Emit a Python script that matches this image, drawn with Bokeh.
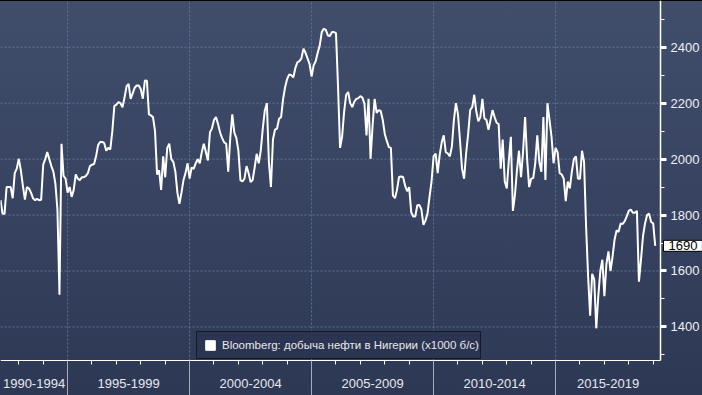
import pandas as pd
from bokeh.plotting import figure
from bokeh.models import (Range1d, LinearAxis, FixedTicker, Label, Legend, LegendItem,
                          ColumnDataSource, CustomJSTickFormatter)
from bokeh.embed import file_html
from bokeh.resources import INLINE

# ---------------- data (monthly, from April 1992) ----------------
start_month = "1992-04"
production = [
    1853, 1805, 1805, 1900, 1900, 1900, 1860, 1950, 1966, 2001, 1960, 1905,
    1855, 1900, 1895, 1880, 1860, 1853, 1858, 1853, 1855, 1980, 2000, 2025,
    2000, 1975, 1955, 1912, 1820, 1515, 2055, 1940, 1930, 1880, 1900, 1865,
    1890, 1945, 1930, 1925, 1935, 1935, 1940, 1950, 1975, 1980, 1982, 2010,
    2050, 2061, 2061, 2058, 2030, 2040, 2035, 2100, 2190, 2195, 2204, 2200,
    2185, 2220, 2260, 2269, 2215, 2235, 2255, 2263, 2263, 2250, 2216, 2281,
    2280, 2160, 2156, 2150, 2100, 1945, 1960, 1890, 2010, 1935, 2040, 2055,
    2000, 1990, 1955, 1880, 1840, 1880, 1925, 1950, 1985, 1930, 1970, 1965,
    1985, 2000, 1985, 2025, 2055, 2025, 1995, 2095, 2110, 2140, 2150, 2125,
    2095, 2075, 2060, 2055, 1955, 2075, 2160, 2095, 2075, 2030, 1925, 1920,
    1930, 1975, 1950, 1918, 1925, 1970, 2019, 1985, 2030, 2110, 2174, 2200,
    1990, 1900, 2070, 2105, 2109, 2144, 2150, 2215, 2258, 2287, 2303, 2300,
    2292, 2325, 2346, 2350, 2360, 2395, 2380, 2360, 2340, 2295, 2335, 2350,
    2380, 2406, 2454, 2466, 2462, 2442, 2440, 2454, 2454, 2450, 2260, 2040,
    2080, 2170, 2230, 2240, 2200, 2186, 2205, 2215, 2218, 2225, 2220, 2198,
    2085, 2216, 2001, 2120, 2215, 2165, 2175, 2172, 2140, 2090, 2065, 2043,
    2040, 1870, 1860, 1890, 1936, 1938, 1936, 1905, 1885, 1900, 1810, 1795,
    1795, 1835, 1836, 1820, 1765, 1780, 1805, 1865, 1920, 2010, 2020, 1950,
    2015, 2060, 2085, 2025, 2020, 2010, 2045, 2140, 2200, 2160, 2065, 1965,
    1930, 2020, 2090, 2175, 2186, 2230, 2170, 2135, 2150, 2215, 2145, 2140,
    2105, 2140, 2175, 2150, 2130, 2125, 1966, 2070, 1920, 1895, 1995, 2080,
    1815, 1870, 1960, 2030, 1935, 2025, 2150, 2000, 1900, 1930, 1932, 1985,
    2085, 1990, 1955, 2150, 1925, 2200, 2140, 2080, 1985, 2040, 2025, 1950,
    1945, 1930, 1850, 1920, 1895, 1955, 2000, 2010, 1930, 1930, 2030, 1990,
    1760, 1580, 1440, 1590, 1570, 1395, 1510, 1600, 1640, 1510, 1625, 1670,
    1600, 1650, 1712, 1745, 1740, 1770, 1768, 1778, 1795, 1815, 1820, 1808,
    1808, 1815, 1562, 1640, 1725, 1770, 1800, 1805, 1775, 1770, 1690,
]
band_starts = [1990, 1995, 2000, 2005, 2010, 2015, 2020]
band_labels = ["1990-1994", "1995-1999", "2000-2004", "2005-2009", "2010-2014", "2015-2019"]
year_ticks = list(range(1993, 2020))
y_major = [1400, 1600, 1800, 2000, 2200, 2400]
y_minor = [1300, 1500, 1700, 1900, 2100, 2300, 2500]
last_label = "1690"
legend_text = "Bloomberg: добыча нефти в Нигерии (x1000 б/с)"

# visible data window
X0, X1 = 1992.25, 2019.30
Y0, Y1 = 1280, 2567

# layout (pixels)
W, H = 702, 395
PLOT_W, PLOT_H = 660, 360          # data area; the rest holds the axes
x_end = X0 + (X1 - X0) * W / PLOT_W
y_start = Y1 - (Y1 - Y0) * H / PLOT_H

dates = pd.date_range(start_month, periods=len(production), freq="MS")
xs = list(dates.year + (dates.month - 1) / 12.0)
src = ColumnDataSource(dict(x=xs, y=production))

FONT = "Liberation Sans"
GRID = "#5b7698"

p = figure(width=W, height=H, output_backend="svg", toolbar_location=None,
           x_range=Range1d(X0, x_end), y_range=Range1d(y_start, Y1),
           x_axis_location=None, y_axis_location=None, min_border=0)
p.xgrid.visible = False
p.ygrid.visible = False
p.background_fill_alpha = 0
p.border_fill_alpha = 0
p.outline_line_color = None
p.styles = {"background": "linear-gradient(180deg, #000000 0px, #000000 1px, #414e6b 1px, "
                          "#36425f 55%, #2d3854 100%)"}

# dotted grid lines limited to the data area
vb = band_starts[1:-1]
p.segment(x0=vb, x1=vb, y0=[Y0] * len(vb), y1=[Y1] * len(vb),
          line_color=GRID, line_dash="2 2", line_width=1)
p.segment(x0=[X0] * len(y_major), x1=[X1] * len(y_major), y0=y_major, y1=y_major,
          line_color=GRID, line_dash="2 2", line_width=1)

# bottom axis: band labels centred in each visible band, short year ticks
centers = [(max(lo, X0) + min(hi, X1)) / 2.0 for lo, hi in zip(band_starts[:-1], band_starts[1:])]
fmt = CustomJSTickFormatter(args=dict(c=centers, l=band_labels), code="""
    let i = 0, b = 1e9;
    for (let k = 0; k < c.length; k++) { const d = Math.abs(c[k] - tick); if (d < b) { b = d; i = k } }
    return l[i];
""")
xaxis = LinearAxis(ticker=FixedTicker(ticks=centers, minor_ticks=year_ticks),
                   fixed_location=Y0, bounds=(X0, X1), formatter=fmt,
                   axis_line_color="white", axis_line_width=1,
                   major_tick_out=0, major_tick_in=0,
                   minor_tick_out=4, minor_tick_in=0, minor_tick_line_color="white",
                   major_label_text_color="#e6e8ee", major_label_text_font=FONT,
                   major_label_text_font_size="13px", major_label_standoff=14)
p.add_layout(xaxis, "below")
# long separators between bands
sep_axis = LinearAxis(ticker=FixedTicker(ticks=[], minor_ticks=band_starts[1:-1]),
                      fixed_location=Y0, bounds=(X0, X1), axis_line_color=None,
                      major_tick_line_color=None,
                      minor_tick_out=35, minor_tick_in=0, minor_tick_line_color="#a4abba")
p.add_layout(sep_axis, "below")

# right axis
yaxis = LinearAxis(ticker=FixedTicker(ticks=y_major, minor_ticks=y_minor),
                   fixed_location=X1, bounds=(Y0, Y1),
                   axis_line_color="white", axis_line_width=1.5,
                   major_tick_out=6, major_tick_in=0, major_tick_line_color="white",
                   major_tick_line_width=3,
                   minor_tick_out=4, minor_tick_in=0, minor_tick_line_color="white",
                   major_label_text_color="#eef0f4", major_label_text_font=FONT,
                   major_label_text_font_size="13px", major_label_standoff=4)
p.add_layout(yaxis, "right")

# series line
p.line(x="x", y="y", source=src, line_color="white", line_width=2)
sq_r = p.scatter(x="x", y="y", source=src, marker="square", size=0,
                 fill_color="white", line_color="white")

legend = Legend(items=[LegendItem(label=legend_text, renderers=[sq_r])],
                location=(196, H - PLOT_H + 1), orientation="horizontal",
                glyph_width=24, glyph_height=24, label_height=24, padding=1,
                spacing=0, label_standoff=0, margin=0,
                border_line_color="black", border_line_width=1,
                background_fill_color="#2b3552", background_fill_alpha=1,
                label_text_color="#e8e8e8", label_text_font=FONT,
                label_text_font_size="11.5px")
p.add_layout(legend)

# last value tag
p.add_layout(Label(x=X1, y=production[-1], x_offset=3, text=last_label,
                   text_baseline="middle", text_align="left", text_color="black",
                   text_font=FONT, text_font_size="13px",
                   background_fill_color="white", border_line_color="black",
                   padding=(5, 1)))

open("out.html", "w").write(file_html(p, INLINE))
